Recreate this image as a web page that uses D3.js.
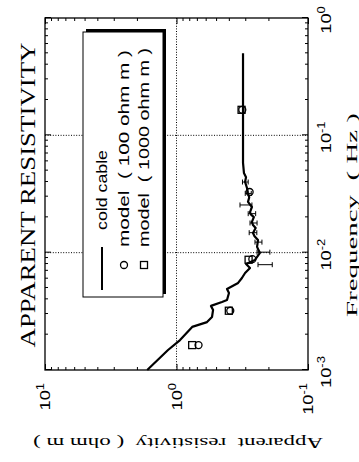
<!DOCTYPE html>
<html>
<head>
<meta charset="utf-8">
<script src="https://cdn.jsdelivr.net/npm/d3@7"></script>
<style>
  body { margin: 0; background: #fff; }
  svg { display: block; }
</style>
</head>
<body>
<div id="chart"></div>
<script>
// Apparent resistivity against frequency: cold cable record and two models.
// The page shows the figure turned a quarter turn to the left, like the scan.

const curveFreq = [0.001, 0.00148, 0.0018, 0.00233, 0.00256, 0.00283, 0.00325, 0.00352, 0.0038, 0.00395,
                   0.00453, 0.0049, 0.00552, 0.00608, 0.00671, 0.00741, 0.0080, 0.00867, 0.00994, 0.0112,
                   0.0128, 0.0138, 0.0147, 0.0162, 0.0172, 0.0183, 0.0201, 0.0212, 0.0222, 0.0245, 0.0271,
                   0.0295, 0.0323, 0.0356, 0.0401, 0.044, 0.0478, 0.0582, 0.099, 0.50];
const curveRho  = [1.67, 1.16, 0.94, 0.76, 0.586, 0.537, 0.527, 0.547, 0.451, 0.413,
                   0.399, 0.413, 0.340, 0.318, 0.301, 0.276, 0.296, 0.253, 0.232, 0.244,
                   0.240, 0.255, 0.262, 0.250, 0.262, 0.267, 0.258, 0.272, 0.276, 0.267, 0.286,
                   0.280, 0.286, 0.291, 0.301, 0.296, 0.307, 0.312, 0.312, 0.312];

// error bars on the cold cable record
const errFreq = [0.0079, 0.0101, 0.0123, 0.0148, 0.0179, 0.0215, 0.0255, 0.032, 0.040];
const errLow  = [0.187, 0.195, 0.224, 0.245, 0.244, 0.250, 0.267, 0.270, 0.285];
const errHigh = [0.240, 0.244, 0.253, 0.280, 0.276, 0.285, 0.329, 0.300, 0.315];

const model100Freq = [0.00163, 0.0032, 0.0088, 0.0329, 0.165];
const model100Rho  = [0.68, 0.39, 0.265, 0.278, 0.316];
const model1000Freq = [0.00163, 0.0032, 0.0087, 0.165];
const model1000Rho  = [0.76, 0.40, 0.283, 0.320];

const legendLabels = ['cold cable', 'model  ( 100 ohm m )', 'model  ( 1000 ohm m )'];
const freqDomain = [1e-3, 1];
const rhoDomain = [1e-1, 10];

const W = 359, H = 462;
const serif = '"Liberation Serif", "Times New Roman", serif';
const sans = '"Liberation Sans", Arial, Helvetica, sans-serif';

// upright frame: H wide, W tall
const m = { left: 92, right: 444, top: 45, bottom: 308 };

const svg = d3.select('#chart').append('svg')
    .attr('width', W)
    .attr('height', H);

const g = svg.append('g').attr('transform', `translate(0,${H}) rotate(-90)`);

const x = d3.scaleLog().domain(freqDomain).range([m.left, m.right]);
const y = d3.scaleLog().domain(rhoDomain).range([m.bottom, m.top]);

const isMajor = v => Math.abs(Math.log10(v) - Math.round(Math.log10(v))) < 1e-9;
const majorX = x.ticks().filter(isMajor);
const majorY = y.ticks().filter(isMajor);

// Dotted grid at inner decades
g.append('g').selectAll('line')
    .data(majorX.filter(v => v > freqDomain[0] && v < freqDomain[1]))
    .enter().append('line')
    .attr('x1', d => x(d)).attr('x2', d => x(d))
    .attr('y1', m.top).attr('y2', m.bottom)
    .attr('stroke', '#000').attr('stroke-width', 1)
    .attr('stroke-dasharray', '1,1.6');

g.append('g').selectAll('line')
    .data(majorY.filter(v => v > rhoDomain[0] && v < rhoDomain[1]))
    .enter().append('line')
    .attr('y1', d => y(d)).attr('y2', d => y(d))
    .attr('x1', m.left).attr('x2', m.right)
    .attr('stroke', '#000').attr('stroke-width', 1)
    .attr('stroke-dasharray', '1,1.6');

// Inward ticks on all four sides
function tickSide(axisFn, scale, pos) {
    const a = g.append('g')
        .attr('transform', pos)
        .call(axisFn(scale).tickValues(scale.ticks()).tickSize(-3).tickFormat(''));
    a.select('.domain').remove();
    a.selectAll('.tick line')
        .attr('stroke', '#000')
        .attr('stroke-width', 1)
        .filter(d => isMajor(d))
        .attr('x2', function() { return +this.getAttribute('x2') * 2; })
        .attr('y2', function() { return +this.getAttribute('y2') * 2; });
}
tickSide(d3.axisBottom, x, `translate(0,${m.bottom})`);
tickSide(d3.axisTop, x, `translate(0,${m.top})`);
tickSide(d3.axisLeft, y, `translate(${m.left},0)`);
tickSide(d3.axisRight, y, `translate(${m.right},0)`);

g.append('rect')
    .attr('x', m.left).attr('y', m.top)
    .attr('width', m.right - m.left).attr('height', m.bottom - m.top)
    .attr('fill', 'none').attr('stroke', '#000').attr('stroke-width', 1.3);

// Tick labels, 10 with a raised exponent
function powLabel(sel, v) {
    sel.append('tspan').text('10');
    sel.append('tspan').attr('dy', -6).attr('font-size', 10).text(String(Math.round(Math.log10(v))));
}

majorX.forEach(v => {
    g.append('text')
        .attr('transform', `translate(${x(v) - 2},331) scale(1.3,1)`)
        .attr('text-anchor', 'middle')
        .attr('font-family', sans).attr('font-size', 14)
        .call(powLabel, v);
});

majorY.forEach(v => {
    g.append('text')
        .attr('transform', `translate(79,${y(v) + 5}) scale(1.3,1)`)
        .attr('text-anchor', 'end')
        .attr('font-family', sans).attr('font-size', 14)
        .call(powLabel, v);
});

// Title and axis titles
g.append('text')
    .attr('x', 267).attr('y', 35)
    .attr('text-anchor', 'middle')
    .attr('font-family', serif).attr('font-size', 20)
    .attr('textLength', 305).attr('lengthAdjust', 'spacingAndGlyphs')
    .text('APPARENT RESISTIVITY');

g.append('text')
    .attr('x', 247).attr('y', 357)
    .attr('text-anchor', 'middle')
    .attr('font-family', serif).attr('font-size', 14)
    .attr('xml:space', 'preserve')
    .attr('textLength', 204).attr('lengthAdjust', 'spacingAndGlyphs')
    .text('Frequency  ( Hz )');

g.append('text')
    .attr('transform', 'translate(24,178) rotate(-90)')
    .attr('text-anchor', 'middle')
    .attr('font-family', serif).attr('font-size', 15)
    .attr('xml:space', 'preserve')
    .attr('textLength', 290).attr('lengthAdjust', 'spacingAndGlyphs')
    .text('Apparent  resistivity  ( ohm m )');

// Error bars
const bars = g.append('g').attr('stroke', '#000').attr('stroke-width', 1);
errFreq.forEach((f, i) => {
    const cx = x(f);
    bars.append('line').attr('x1', cx).attr('x2', cx).attr('y1', y(errLow[i])).attr('y2', y(errHigh[i]));
    bars.append('line').attr('x1', cx - 2.5).attr('x2', cx + 2.5).attr('y1', y(errLow[i])).attr('y2', y(errLow[i]));
    bars.append('line').attr('x1', cx - 2.5).attr('x2', cx + 2.5).attr('y1', y(errHigh[i])).attr('y2', y(errHigh[i]));
});

// Cold cable curve
const curve = curveFreq.map((f, i) => ({ f, r: curveRho[i] }));
g.append('path')
    .datum(curve)
    .attr('fill', 'none')
    .attr('stroke', '#000')
    .attr('stroke-width', 2.2)
    .attr('stroke-linejoin', 'round')
    .attr('d', d3.line().x(d => x(d.f)).y(d => y(d.r)));

// Model markers
g.append('g').selectAll('circle')
    .data(model100Freq.map((f, i) => ({ f, r: model100Rho[i] })))
    .enter().append('circle')
    .attr('cx', d => x(d.f)).attr('cy', d => y(d.r)).attr('r', 3.5)
    .attr('fill', 'none').attr('stroke', '#000').attr('stroke-width', 1.3);

g.append('g').selectAll('rect')
    .data(model1000Freq.map((f, i) => ({ f, r: model1000Rho[i] })))
    .enter().append('rect')
    .attr('x', d => x(d.f) - 3.5).attr('y', d => y(d.r) - 3.5)
    .attr('width', 7).attr('height', 7)
    .attr('fill', 'none').attr('stroke', '#000').attr('stroke-width', 1.3);

// Legend
const lg = g.append('g');
lg.append('rect')
    .attr('x', 168).attr('y', 86).attr('width', 265).attr('height', 80)
    .attr('fill', '#000');
lg.append('rect')
    .attr('x', 165).attr('y', 83).attr('width', 265).attr('height', 80)
    .attr('fill', '#fff').attr('stroke', '#000').attr('stroke-width', 1);

lg.append('line')
    .attr('x1', 172).attr('x2', 215).attr('y1', 102).attr('y2', 102)
    .attr('stroke', '#000').attr('stroke-width', 2);
lg.append('circle')
    .attr('cx', 197).attr('cy', 124).attr('r', 3.5)
    .attr('fill', 'none').attr('stroke', '#000').attr('stroke-width', 1.3);
lg.append('rect')
    .attr('x', 193.5).attr('y', 140.5).attr('width', 7).attr('height', 7)
    .attr('fill', 'none').attr('stroke', '#000').attr('stroke-width', 1.3);

const legendX = [232, 215, 215];
const legendY = [107, 129, 149];
const legendLen = [80, 197, 199];
legendLabels.forEach((t, i) => {
    lg.append('text')
        .attr('x', legendX[i]).attr('y', legendY[i])
        .attr('font-family', sans).attr('font-size', 14)
        .attr('xml:space', 'preserve')
        .attr('textLength', legendLen[i]).attr('lengthAdjust', 'spacingAndGlyphs')
        .text(t);
});
</script>
</body>
</html>
